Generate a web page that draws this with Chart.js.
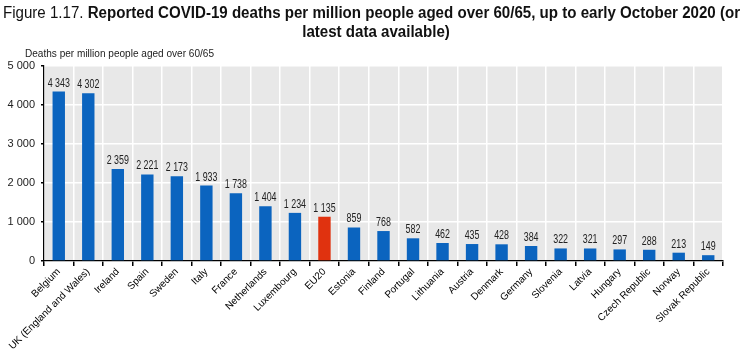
<!DOCTYPE html>
<html>
<head>
<meta charset="utf-8">
<script src="https://cdn.jsdelivr.net/npm/chart.js@4.4.0/dist/chart.umd.min.js"></script>
<style>
  html, body { margin: 0; padding: 0; background: #fff; }
  #wrap { position: relative; width: 751px; height: 352px; }
</style>
</head>
<body>
<div id="wrap"><canvas id="deathsChart" width="751" height="352"></canvas></div>
<script>
const countries = ['Belgium', 'UK (England and Wales)', 'Ireland', 'Spain', 'Sweden', 'Italy', 'France',
  'Netherlands', 'Luxembourg', 'EU20', 'Estonia', 'Finland', 'Portugal', 'Lithuania', 'Austria',
  'Denmark', 'Germany', 'Slovenia', 'Latvia', 'Hungary', 'Czech Republic', 'Norway', 'Slovak Republic'];
const deaths = [4343, 4302, 2359, 2221, 2173, 1933, 1738, 1404, 1234, 1135, 859, 768, 582, 462, 435,
  428, 384, 322, 321, 297, 288, 213, 149];
const yTicks = [0, 1000, 2000, 3000, 4000, 5000];
const highlight = 'EU20';

const FONT = "'Liberation Sans', Arial, sans-serif";

// format with space as thousands separator
function fmt(v) {
    return String(v).replace(/\B(?=(\d{3})+(?!\d))/g, ' ');
}

// draw text squeezed horizontally (the original uses a narrow font)
function narrowText(ctx, text, x, y, sx, align) {
    const w = ctx.measureText(text).width * sx;
    let left = x;
    if (align === 'center') left = x - w / 2;
    if (align === 'right') left = x - w;
    ctx.save();
    ctx.translate(left, y);
    ctx.scale(sx, 1);
    ctx.textAlign = 'left';
    ctx.fillText(text, 0, 0);
    ctx.restore();
}

// grey background behind the bars
const plotBg = {
    id: 'plotBg',
    beforeDraw(chart) {
        const { ctx, chartArea: a } = chart;
        ctx.save();
        ctx.fillStyle = '#e8e8e8';
        ctx.fillRect(a.left, a.top, a.right - a.left, a.bottom - a.top);
        ctx.restore();
    }
};

// title, axis caption and value labels
const texts = {
    id: 'texts',
    afterDatasetsDraw(chart) {
        const { ctx } = chart;
        ctx.save();
        ctx.fillStyle = '#111';
        ctx.textBaseline = 'alphabetic';

        // title line 1 : normal + bold parts, squeezed to fit 3..740
        const part1 = 'Figure 1.17. ';
        const part2 = 'Reported COVID-19 deaths per million people aged over 60/65, up to early October 2020 (or';
        ctx.font = '16px ' + FONT;
        const w1 = ctx.measureText(part1).width;
        ctx.font = 'bold 16px ' + FONT;
        const w2 = ctx.measureText(part2).width;
        const sx = 737 / (w1 + w2);
        ctx.font = '16px ' + FONT;
        narrowText(ctx, part1, 3, 18, sx, 'left');
        ctx.font = 'bold 16px ' + FONT;
        narrowText(ctx, part2, 3 + w1 * sx, 18, sx, 'left');
        narrowText(ctx, 'latest data available)', 376, 37, sx, 'center');

        // axis caption
        ctx.font = '11px ' + FONT;
        ctx.fillStyle = '#222';
        const cw = ctx.measureText('Deaths per million people aged over 60/65').width;
        narrowText(ctx, 'Deaths per million people aged over 60/65', 25, 57, 189 / cw, 'left');

        // value labels
        ctx.font = '12px ' + FONT;
        const meta = chart.getDatasetMeta(0);
        meta.data.forEach((bar, i) => {
            narrowText(ctx, fmt(deaths[i]), bar.x, bar.y - 5, 0.74, 'center');
        });
        ctx.restore();
    }
};

const ctx = document.getElementById('deathsChart').getContext('2d');

new Chart(ctx, {
    type: 'bar',
    data: {
        labels: countries,
        datasets: [{
            data: deaths,
            backgroundColor: countries.map(c => c === highlight ? '#e0320f' : '#0b64bf'),
            borderWidth: 0,
            barPercentage: 0.42,
            categoryPercentage: 1
        }]
    },
    options: {
        responsive: false,
        animation: false,
        layout: { padding: { top: 66, right: 28, left: 0, bottom: 0 } },
        plugins: {
            legend: { display: false },
            tooltip: { enabled: false }
        },
        scales: {
            x: {
                offset: true,
                grid: {
                    offset: true,
                    color: '#ffffff',
                    lineWidth: 1.5,
                    tickColor: '#000',
                    tickLength: 5
                },
                border: { display: true, color: '#000', width: 1.2 },
                ticks: {
                    color: '#000',
                    font: { size: 10, family: FONT },
                    minRotation: 45,
                    maxRotation: 45,
                    autoSkip: false,
                    padding: 0
                },
                afterFit(s) { s.height = 91; }
            },
            y: {
                min: 0,
                max: 5000,
                afterBuildTicks(s) { s.ticks = yTicks.map(v => ({ value: v })); },
                grid: {
                    color: '#ffffff',
                    lineWidth: 1.5,
                    tickColor: '#000',
                    tickLength: 3
                },
                border: { display: true, color: '#000', width: 1.2 },
                ticks: {
                    color: '#222',
                    font: { size: 11, family: FONT },
                    padding: 6,
                    callback: v => fmt(v)
                },
                afterFit(s) { s.width = 44; }
            }
        }
    },
    plugins: [plotBg, texts]
});
</script>
</body>
</html>
